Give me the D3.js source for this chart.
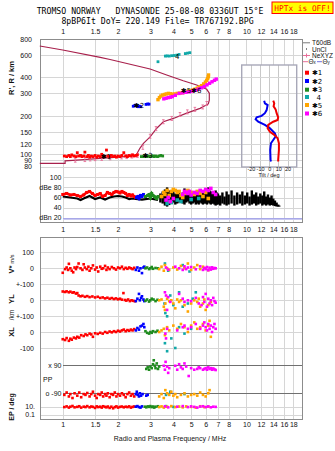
<!DOCTYPE html>
<html><head><meta charset="utf-8">
<script src="https://cdn.jsdelivr.net/npm/d3@7"></script>
<style>body{margin:0;background:#fff}svg{display:block}</style>
</head><body><svg id="c" width="335" height="451"></svg>
<script>
// ---------------- DATA ----------------
const freqTicks=[1,1.5,2,3,4,5,6,7,8,10,12,14,16,18];
const freqLabels=["1","1.5","2","3","4","5","6","7","8","10","12","14","16","18"];
const heightTicks=[80,90,100,120,150,200,300,400,600,800];
const dbTicks=[20,40,60,80,100];
const dbLabels=["dBn 20","40","60","dBe 80","100"];
const tiltTicks=[-20,-10,0,10,20];

// true-height profile (MHz, km)
const profile=[[0.75,85],[1.03,85],[1.03,89],[1.3,91],[1.6,93],[2.0,95],[2.3,96.5],[2.52,98],[2.56,104],[2.63,111.5],[2.75,122],[2.99,137],[3.25,160],[3.53,180],[4.0,191],[4.73,210],[5.59,229],[6.2,248],[6.28,266],[6.28,301],[6.08,323],[5.36,349],[4.53,377],[3.68,418],[2.99,466],[1.81,553],[1.6,575],[1.0,656],[0.75,705]];
const neMarks=[[1.17,90],[1.32,91],[1.41,92],[1.5,92.5],[1.63,93],[1.81,94],[2.09,95.5],[2.23,96],[2.38,97],[2.55,98],[2.73,113.5],[2.99,138.6],[3.22,159],[3.53,180],[3.92,191],[4.35,205],[4.77,215],[5.24,225],[5.78,235],[6.08,250]];

// virtual heights R' per mode (MHz, km)
const r1=[[1.02,97],[1.05,96],[1.08,98],[1.10,96],[1.12,99],[1.15,97],[1.18,96],[1.2,103],[1.22,97],[1.25,98],[1.27,96],[1.3,97],[1.32,104],[1.35,96],[1.38,98],[1.4,95],[1.43,97],[1.46,96],[1.5,98],[1.53,95],[1.56,97],[1.6,96],[1.63,100],[1.66,97],[1.7,96],[1.73,108],[1.76,97],[1.8,96],[1.84,98],[1.88,96],[1.92,97],[1.96,95],[2.0,97],[2.05,96],[2.1,98],[2.15,103],[2.2,97],[2.25,96],[2.3,98],[2.35,97],[2.4,99],[2.45,97],[2.5,98],[2.55,99]];
const r2=[[2.42,238],[2.46,240],[2.5,243],[2.54,239],[2.58,236],[2.62,238],[2.66,236],[2.84,246],[2.9,248],[2.95,247]];
const r3=[[2.68,96],[2.75,96],[2.8,97],[2.86,96],[2.92,97],[2.98,96],[3.05,97],[3.1,97],[3.15,96],[3.2,97],[3.28,96],[3.35,97],[3.42,98],[3.5,97]];
const r4=[[3.30,531],[3.62,588],[3.70,590],[3.80,588],[3.92,592],[4.05,594],[4.18,598],[4.30,605],[4.65,615],[4.78,620],[4.92,625]];
const r5=[[3.30,268],[3.36,278],[3.42,286],[3.5,291],[3.58,294],[3.66,297],[3.76,300],[3.86,298],[3.96,296],[4.08,297],[4.2,300],[4.35,302],[4.5,304],[4.65,307],[4.8,311],[4.95,315],[5.1,319],[5.25,324],[5.4,330],[5.55,337],[5.7,345],[5.85,356],[5.98,368],[6.08,380],[6.15,392],[6.2,405],[6.22,418]];
const r6=[[3.55,272],[3.65,275],[3.75,278],[3.85,280],[3.95,283],[4.1,290],[4.3,300],[4.5,303],[4.7,306],[4.9,309],[5.1,313],[5.3,318],[5.5,325],[5.7,332],[5.9,340],[6.1,350],[6.3,360],[6.5,370],[6.7,380],[6.85,388]];
const modeLabels=[["✱1",1.72,92],["✱2",2.6,230],["✱3",2.9,93],["4",4.2,555],["✱5✱6",5.0,300]];

// amplitudes (MHz, dB)
const db1=[[1.0,66],[1.05,68],[1.1,65],[1.15,66],[1.2,64],[1.25,62],[1.3,65],[1.35,70],[1.4,72],[1.45,68],[1.5,64],[1.55,66],[1.6,68],[1.65,62],[1.7,64],[1.75,70],[1.8,68],[1.85,66],[1.9,70],[1.95,72],[2.0,71],[2.05,69],[2.1,72],[2.15,70],[2.2,68],[2.25,64],[2.3,66],[2.35,63],[2.4,65],[2.45,62],[2.5,60]];
const dbBase=[[1.0,62],[1.1,60],[1.2,58],[1.25,55],[1.3,58],[1.4,63],[1.5,57],[1.6,60],[1.7,56],[1.8,60],[1.9,62],[2.0,63],[2.1,62],[2.2,60],[2.3,57],[2.4,58],[2.5,57],[2.7,56],[3.0,58],[3.3,55]];
const db2=[[2.52,60],[2.56,62],[2.6,58],[2.65,64],[2.7,62],[2.75,66]];
const db3=[[2.82,62],[2.9,64],[2.95,66],[3.0,60],[3.05,68],[3.1,64],[3.15,62],[3.2,60],[3.25,58],[3.3,62]];
const db4=[[3.7,48],[3.8,52],[3.9,50],[4.2,55],[4.4,52],[5.0,56],[5.5,58]];
const db5=[[3.45,62],[3.55,70],[3.6,66],[3.7,74],[3.8,64],[3.9,72],[4.0,76],[4.1,74],[4.2,70],[4.3,72],[4.4,64],[4.5,60],[4.6,68],[4.8,74],[5.0,70],[5.2,66],[5.4,72],[5.6,68],[5.8,62],[6.0,70],[6.2,58]];
const db6=[[3.65,55],[3.75,60],[3.85,52],[4.0,58],[4.5,66],[4.6,72],[4.7,70],[4.8,68],[4.9,72],[5.0,65],[5.2,70],[5.4,68],[5.6,74],[5.8,72],[6.0,76],[6.2,74],[6.4,78],[6.6,70],[6.8,66]];
const dbSpikes=[[3.4,50,68],[3.5,48,72],[3.6,44,76],[3.7,42,80],[3.8,45,74],[3.9,48,70],[4.0,50,72],[4.1,46,68],[4.2,48,74],[4.3,50,70],[4.4,52,66],[4.5,48,70],[4.6,46,78],[4.7,50,72],[4.8,52,68],[4.9,48,74],[5.0,46,70],[5.1,48,66],[5.2,50,68],[5.3,46,70],[5.4,48,72],[5.5,46,68],[5.6,50,74],[5.7,48,66],[5.8,46,70],[5.9,48,72],[6.0,48,78],[6.1,46,70],[6.2,50,80],[6.3,48,74],[6.4,46,72],[6.5,48,68],[6.6,48,70],[6.7,46,66],[6.8,44,74],[6.9,46,70],[7.0,46,68],[7.2,44,64],[7.4,48,70],[7.6,46,62],[7.8,44,72],[8.0,46,66],[8.3,48,74],[8.6,44,64],[8.9,46,70],[9.2,48,66],[9.5,44,72],[9.8,46,64],[10.1,48,70],[10.4,44,62],[10.7,46,74],[11.0,48,66],[11.3,44,70],[11.6,46,62],[11.9,48,68],[12.2,44,64],[12.5,46,72],[12.8,44,62],[13.1,46,66],[13.4,44,60],[13.7,45,64],[14.0,44,58],[14.3,43,54],[14.6,42,50],[14.9,42,46],[15.1,42,44]];

// V* (m/s)
const v1=[[1.0,-28],[1.03,-5],[1.05,5],[1.07,-10],[1.08,28],[1.1,0],[1.12,-15],[1.14,-25],[1.16,5],[1.18,-5],[1.2,8],[1.22,30],[1.25,0],[1.28,-10],[1.3,25],[1.32,5],[1.35,-5],[1.38,10],[1.4,-15],[1.43,0],[1.46,18],[1.5,-8],[1.53,5],[1.56,-20],[1.6,10],[1.63,-3],[1.66,0],[1.7,15],[1.73,-10],[1.76,5],[1.8,-5],[1.85,8],[1.9,0],[1.95,-8],[2.0,5],[2.05,0],[2.1,10],[2.15,-5],[2.2,3],[2.25,-3],[2.3,5],[2.35,0],[2.4,-5],[2.45,3]];
const v2=[[2.5,-10],[2.55,5],[2.6,-15],[2.65,0],[2.7,-30],[2.75,5],[2.78,10]];
const v3=[[2.82,0],[2.88,5],[2.95,-5],[3.0,0],[3.05,8],[3.1,-3],[3.2,2],[3.3,0]];
const v4=[[3.6,30],[3.75,-15],[4.5,20],[4.9,-20]];
const v5=[[3.35,-5],[3.45,10],[3.55,-15],[3.6,20],[3.7,0],[3.8,-10],[4.0,5],[4.2,-8],[4.4,15],[4.6,0],[4.8,30],[5.0,-10],[5.2,5],[5.4,20],[5.6,-5],[5.8,10],[6.0,0],[6.2,-12]];
const v6=[[3.65,5],[3.75,-8],[4.1,10],[4.3,0],[4.5,-10],[4.6,12],[4.7,-5],[4.8,5],[5.0,8],[5.3,-6],[5.6,12],[5.8,-10],[5.9,3],[6.0,-5],[6.1,8],[6.2,-12],[6.3,4],[6.4,-8],[6.5,6],[6.6,-3],[6.7,2],[6.8,0]];

// YL (km)
const yl1=[[1.0,55],[1.03,52],[1.05,56],[1.08,50],[1.1,54],[1.13,48],[1.15,50],[1.18,42],[1.2,45],[1.22,30],[1.25,25],[1.28,28],[1.32,22],[1.36,26],[1.4,20],[1.45,24],[1.5,18],[1.55,22],[1.6,15],[1.65,18],[1.7,12],[1.75,16],[1.8,10],[1.85,14],[1.9,8],[1.95,12],[2.0,6],[2.05,10],[2.1,4],[2.14,45],[2.18,2],[2.22,-2],[2.27,5],[2.32,-5],[2.37,0],[2.42,-3],[2.47,-6]];
const yl2=[[2.5,-5],[2.55,10],[2.6,40],[2.63,0],[2.67,15],[2.7,25],[2.75,5],[2.78,-5]];
const yl3=[[2.82,-3],[2.88,5],[2.95,-8],[3.0,0],[3.05,10],[3.12,5],[3.2,-5],[3.28,3]];
const yl4=[[3.58,-20],[3.62,-80],[3.7,-100],[3.85,30],[4.0,-30],[4.3,50],[4.5,-40],[4.8,-20],[5.1,10],[5.3,50]];
const yl5=[[3.35,0],[3.45,5],[3.55,-40],[3.6,-60],[3.62,-20],[3.7,10],[3.8,-5],[3.9,0],[4.0,-20],[4.1,-50],[4.2,5],[4.3,-10],[4.4,0],[4.6,-30],[4.8,-70],[5.0,-20],[5.2,0],[5.4,-10],[5.5,10],[5.6,-40],[5.8,-20],[5.9,5],[6.0,-60],[6.2,-30],[6.4,-10]];
const yl6=[[3.6,50],[3.65,30],[3.7,-60],[3.75,20],[3.85,-10],[4.3,40],[4.5,10],[4.6,-10],[4.8,0],[5.0,-5],[5.3,15],[5.5,-20],[5.7,-30],[5.8,20],[5.9,-10],[6.0,40],[6.1,-40],[6.2,10],[6.3,-20],[6.4,0],[6.5,-30],[6.6,15],[6.7,-5],[6.8,-15]];

// XL (km)
const xl1=[[1.0,-45],[1.03,-50],[1.05,-38],[1.08,-55],[1.1,-42],[1.12,-48],[1.15,-35],[1.18,-40],[1.2,-30],[1.23,-35],[1.26,-20],[1.3,-25],[1.33,-15],[1.36,-20],[1.4,-10],[1.43,-15],[1.46,-30],[1.5,-8],[1.55,-12],[1.6,-5],[1.65,-10],[1.7,0],[1.75,-5],[1.8,3],[1.85,-2],[1.9,5],[1.95,0],[2.0,8],[2.05,3],[2.1,10],[2.15,15],[2.2,5],[2.25,12],[2.3,8],[2.35,15],[2.4,10],[2.45,18]];
const xl2=[[2.5,10],[2.55,25],[2.6,15],[2.65,35],[2.7,40],[2.75,50],[2.78,30]];
const xl3=[[2.82,5],[2.88,-5],[2.95,-10],[3.0,0],[3.05,-5],[3.1,5],[3.2,0],[3.28,8]];
const xl4=[[3.6,-70],[3.7,-120],[3.9,-40],[4.1,-100],[4.3,30],[4.6,-10],[5.0,20]];
const xl5=[[3.35,0],[3.45,10],[3.55,20],[3.6,-20],[3.7,30],[3.8,10],[4.0,40],[4.2,20],[4.4,50],[4.6,30],[4.8,0],[5.0,40],[5.2,60],[5.4,20],[5.6,30],[5.8,50],[6.0,10],[6.2,40],[6.3,70],[6.4,-30]];
const xl6=[[3.62,-10],[3.65,-40],[3.7,20],[4.2,10],[4.5,30],[4.6,40],[4.8,20],[5.0,30],[5.3,50],[5.6,20],[5.8,40],[5.9,60],[6.0,30],[6.1,10],[6.2,50],[6.3,20],[6.4,40],[6.5,0],[6.6,30],[6.7,50],[6.8,20]];

// PP (deg)
const pp1=[[1.02,-100],[1.05,-85],[1.08,-110],[1.1,-95],[1.13,-120],[1.16,-90],[1.2,-105],[1.23,-85],[1.26,-115],[1.3,-95],[1.33,-100],[1.36,-88],[1.4,-110],[1.43,-95],[1.46,-80],[1.5,-105],[1.53,-120],[1.56,-95],[1.6,-100],[1.63,-85],[1.66,-110],[1.7,-95],[1.73,-105],[1.76,-90],[1.8,-115],[1.84,-95],[1.88,-100],[1.92,-85],[1.96,-110],[2.0,-95],[2.05,-105],[2.1,-90],[2.15,-100],[2.2,-115],[2.25,-95],[2.3,-85],[2.35,-105],[2.4,-95],[2.45,-110]];
const pp2=[[2.5,-95],[2.53,-80],[2.56,-100],[2.6,-110],[2.63,-90],[2.67,-105],[2.72,-95],[2.85,-105],[2.9,-100]];
const pp3=[[2.85,65],[2.9,75],[2.95,60],[3.0,80],[3.05,70],[3.1,95],[3.13,120],[3.17,85],[3.2,70],[3.25,100],[3.3,65],[3.35,80]];
const pp4=[[3.65,-100],[3.85,-80],[4.6,-95]];
const pp5=[[3.35,-110],[3.45,-95],[3.55,-120],[3.62,-70],[3.7,-90],[3.8,-100],[3.9,-80],[4.0,-105],[4.1,-95],[4.2,-115],[4.4,-100],[4.6,-90],[4.8,-110],[5.0,-100],[5.2,-95],[5.4,-105],[5.6,-85],[5.8,-100],[6.0,-110],[6.2,-90],[6.3,-70]];
const pp6=[[3.55,85],[3.6,60],[3.63,110],[3.7,80],[3.75,40],[3.8,70],[4.1,85],[4.2,60],[4.3,95],[4.4,75],[4.5,65],[4.6,100],[4.7,80],[4.85,20],[5.0,70],[5.2,60],[5.4,65],[5.5,75],[5.6,70],[5.8,60],[5.9,65],[6.0,70],[6.1,60],[6.2,75],[6.3,65],[6.4,70],[6.5,60],[6.6,68],[6.7,62],[6.8,58]];

// EP (deg)
const ep1=[[1.02,8],[1.05,12],[1.08,6],[1.1,10],[1.13,15],[1.16,7],[1.2,9],[1.23,13],[1.26,6],[1.3,10],[1.33,8],[1.36,14],[1.4,7],[1.43,11],[1.46,9],[1.5,5],[1.53,12],[1.56,8],[1.6,10],[1.63,6],[1.66,13],[1.7,9],[1.73,7],[1.76,11],[1.8,5],[1.84,10],[1.88,4],[1.92,8],[1.96,12],[2.0,6],[2.05,9],[2.1,11],[2.15,7],[2.2,10],[2.25,8],[2.3,12],[2.35,6],[2.4,9],[2.45,11]];
const ep2=[[2.5,10],[2.55,14],[2.6,8],[2.65,6],[2.7,12]];
const ep3=[[2.8,10],[2.85,7],[2.9,12],[2.95,9],[3.0,14],[3.05,8],[3.1,11],[3.15,6],[3.2,10],[3.3,13]];
const ep4=[[3.65,14],[4.0,9]];
const ep5=[[3.35,8],[3.45,12],[3.55,6],[3.7,10],[3.9,14],[4.1,8],[4.3,11],[4.5,7],[4.7,12],[5.0,9],[5.3,6],[5.6,13],[5.9,8],[6.2,10]];
const ep6=[[3.6,12],[3.75,7],[4.2,10],[4.5,14],[4.8,8],[5.0,12],[5.2,9],[5.4,6],[5.6,11],[5.8,13],[6.0,8],[6.2,12],[6.4,7],[6.6,10],[6.8,9]];

// tilt inset (km, deg)
const tiltThX=[[263,4.4],[251,5.5],[238,4.8],[225,7],[210,8.1],[195,9.8],[186,9.2],[180,4.4],[170,-1.1],[160,-1.7],[150,0.8],[142,5.5],[133.5,9.2],[122,10.6],[108,10.6],[90.3,9.8],[88,9.8]];
const tiltThY=[[263,-5.5],[251,-4.7],[243,-1.7],[222,-2.8],[210,-4.7],[200,-8.3],[195,-13.7],[188,-14.8],[180,-12],[170,-4.7],[160,0.8],[146,6.2],[139,7.3],[129.5,4.4],[122,1.9],[108,1.1],[90.3,1.5],[88,1.9]];

const legendModes=["✱1","✱2","✱3","  4","✱5","✱6"];

// ---------------- STYLE ----------------
const C=["#ff0000","#0000ff","#1e8c1e","#10a8a8","#ffa500","#ff00ff"];
const FONT="Liberation Sans, Arial, sans-serif";
const MONO="DejaVu Sans Mono, monospace";
const svg=d3.select("#c");
svg.append("rect").attr("width",335).attr("height",451).attr("fill","#fff");

const x=d3.scaleLog().domain([0.752,20.07]).range([40,302]);
const yH=d3.scaleLog().domain([80,800]).range([166.7,39]);
const yDb=d3.scaleLinear().domain([20,100]).range([217.7,177.3]);
const yV=d3.scaleLinear().domain([-100,100]).range([284.3,252.3]);
const yYL=d3.scaleLinear().domain([-100,100]).range([316.3,284.3]);
const yXL=d3.scaleLinear().domain([-100,100]).range([348,316]);
const yPP=d3.scaleLinear().domain([-90,90]).range([393.3,365]);
const yEP=d3.scaleLog().domain([0.1,10]).range([414.7,406.7]);
const xT=d3.scaleLinear().domain([-30,30]).range([241.7,296.7]);

const px=v=>Math.round(v)+0.5;
function hline(g,y,x1,x2,col,w){g.append("line").attr("x1",x1).attr("x2",x2).attr("y1",px(y)).attr("y2",px(y)).attr("stroke",col).attr("stroke-width",w||1);}
function vline(g,xx,y1,y2,col,w){g.append("line").attr("x1",px(xx)).attr("x2",px(xx)).attr("y1",y1).attr("y2",y2).attr("stroke",col).attr("stroke-width",w||1);}

// grids
const grid=svg.append("g").attr("shape-rendering","crispEdges");
const GC="#d6d6d6";
freqTicks.forEach(f=>{vline(grid,x(f),39,222,GC);vline(grid,x(f),237,419,GC);});
heightTicks.forEach(h=>hline(grid,yH(h),40,302,GC));
[40,60,80,100].forEach(d=>hline(grid,yDb(d),63,302,GC));
hline(grid,yDb(20),63,302,"#a8a8e8");
hline(grid,yDb(20)+1.5,63,302,"#c8c8f0");
[100,0].forEach(v=>hline(grid,yV(v),40,302,GC));
[100,0].forEach(v=>hline(grid,yYL(v),40,302,GC));
[100,0,-100].forEach(v=>hline(grid,yXL(v),40,302,GC));
[90,-90].forEach(v=>hline(grid,yPP(v),63,302,"#707070"));
[10,0.1].forEach(v=>hline(grid,yEP(v),40,302,GC));

// frames
svg.append("rect").attr("x",40.5).attr("y",39.5).attr("width",262).attr("height",183).attr("fill","none").attr("stroke","#8c8c8c");
svg.append("rect").attr("x",40.5).attr("y",237.5).attr("width",262).attr("height",182).attr("fill","none").attr("stroke","#8c8c8c");

// axes
function styleAxis(g,fs){g.attr("font-size",fs||7).attr("font-family",FONT);g.select(".domain").remove();g.selectAll("text").attr("fill","#111");g.selectAll("line").remove();}
const fmtF=(d,i)=>freqLabels[i];
svg.append("g").attr("transform","translate(0,39)").call(d3.axisTop(x).tickValues(freqTicks).tickFormat(fmtF).tickSize(0).tickPadding(5.5)).call(styleAxis);
svg.append("g").attr("transform","translate(0,222)").call(d3.axisBottom(x).tickValues(freqTicks).tickFormat(fmtF).tickSize(0).tickPadding(5)).call(styleAxis);
svg.append("g").attr("transform","translate(0,419)").call(d3.axisBottom(x).tickValues(freqTicks).tickFormat(fmtF).tickSize(0).tickPadding(3)).call(styleAxis);
svg.append("g").attr("transform","translate(40,0)").call(d3.axisLeft(yH).tickValues(heightTicks).tickFormat(d=>String(d)).tickSize(0).tickPadding(8)).call(styleAxis);
svg.append("g").attr("transform","translate(63,0)").call(d3.axisLeft(yDb).tickValues(dbTicks).tickFormat((d,i)=>dbLabels[i]).tickSize(0).tickPadding(1.5)).call(styleAxis);
svg.append("g").attr("transform","translate(40,0)").call(d3.axisLeft(yV).tickValues([100,0]).tickFormat(d=>String(d)).tickSize(0).tickPadding(6)).call(styleAxis);
svg.append("g").attr("transform","translate(40,0)").call(d3.axisLeft(yYL).tickValues([100,0]).tickFormat(d=>d===100?"+-100":"0").tickSize(0).tickPadding(6)).call(styleAxis);
svg.append("g").attr("transform","translate(40,0)").call(d3.axisLeft(yXL).tickValues([100,0,-100]).tickFormat(d=>d===100?"+-100":String(d)).tickSize(0).tickPadding(6)).call(styleAxis);
svg.append("g").attr("transform","translate(63,0)").call(d3.axisLeft(yPP).tickValues([90,-90]).tickFormat(d=>d>0?"x 90":"o -90").tickSize(0).tickPadding(1.5)).call(styleAxis);
svg.append("g").attr("transform","translate(40,0)").call(d3.axisLeft(yEP).tickValues([10,0.1]).tickFormat(d=>d===10?"10.":"0.1").tickSize(0).tickPadding(5)).call(styleAxis);

// axis titles
function rotText(t,xx,yy,fs){return svg.append("text").attr("transform",`translate(${xx},${yy}) rotate(-90)`).attr("text-anchor","middle").attr("font-family",FONT).attr("font-size",fs||7.5).attr("font-weight","bold").attr("fill","#111").text(t);}
rotText("R', R / km",14,78);
const vt=svg.append("text").attr("transform","translate(14,264) rotate(-90)").attr("text-anchor","middle").attr("font-family",FONT).attr("font-size",7.5).attr("font-weight","bold").attr("fill","#111");
vt.append("tspan").text("V* ");vt.append("tspan").attr("font-size",5.5).attr("font-weight","normal").text("m/s");
rotText("YL",14,299);
rotText("/km",14,315,6.5).attr("font-weight","normal");
rotText("XL",14,332);
rotText("EP / deg",14,407,7);
svg.append("text").attr("x",43).attr("y",381.5).attr("font-family",FONT).attr("font-size",7).attr("fill","#111").text("PP");
svg.append("text").attr("x",170).attr("y",441).attr("text-anchor","middle").attr("font-family",FONT).attr("font-size",7).attr("fill","#111").text("Radio and Plasma Frequency / MHz");

// ---- main panel data ----
const sq=(g,data,ys,col,s)=>g.selectAll(null).data(data).join("rect").attr("x",d=>x(d[0])-s/2).attr("y",d=>ys(d[1])-s/2).attr("width",s).attr("height",s).attr("fill",col);
const mg=svg.append("g");
const line=d3.line().x(d=>x(d[0])).y(d=>yH(d[1]));
mg.append("path").attr("d",line(profile)).attr("fill","none").attr("stroke","#a8204c").attr("stroke-width",1.2);
neMarks.forEach(d=>{const cx=x(d[0]),cy=yH(d[1]);
  mg.append("path").attr("d",`M${cx-1.3},${cy-2}H${cx+1.3}M${cx},${cy-2}V${cy+2}M${cx-1.3},${cy+2}H${cx+1.3}`).attr("stroke","#e8709a").attr("stroke-width",0.9).attr("fill","none");});
[r1,r2,r3,r4,r5,r6].forEach((r,i)=>sq(mg,r,yH,C[i],i>=4?3.4:2.8));
modeLabels.forEach(d=>mg.append("text").attr("x",x(d[1])).attr("y",yH(d[2])).attr("font-family","DejaVu Sans").attr("font-size",7).attr("fill","#000").attr("text-anchor","middle").text(d[0]));

// ---- dB panel ----
const dg=svg.append("g");
dbSpikes.forEach(d=>dg.append("line").attr("x1",x(d[0])).attr("x2",x(d[0])).attr("y1",yDb(d[1])).attr("y2",yDb(d[2])).attr("stroke","#000").attr("stroke-width",2.4));
const dl=d3.line().x(d=>x(d[0])).y(d=>yDb(d[1]));
dg.append("path").attr("d",dl(dbBase)).attr("fill","none").attr("stroke","#000").attr("stroke-width",2.2);
[db1,db2,db3].forEach((r,i)=>{dg.append("path").attr("d",dl(r)).attr("fill","none").attr("stroke",C[i]).attr("stroke-width",2.6);sq(dg,r,yDb,C[i],3);});
[db4,db5,db6].forEach((r,i)=>sq(dg,r,yDb,C[i+3],3.6));

// ---- lower panel ----
const lg=svg.append("g");
const sets=[[[v1,v2,v3,v4,v5,v6],yV],[[yl1,yl2,yl3,yl4,yl5,yl6],yYL],[[xl1,xl2,xl3,xl4,xl5,xl6],yXL],[[pp1,pp2,pp3,pp4,pp5,pp6],yPP],[[ep1,ep2,ep3,ep4,ep5,ep6],yEP]];
sets.forEach(([arr,ys])=>arr.forEach((r,i)=>sq(lg,r,ys,C[i],2.6)));

// ---- tilt inset ----
const ig=svg.append("g");
ig.append("rect").attr("x",241.7).attr("y",65).attr("width",55).attr("height",102).attr("fill","#fff");
const ing=ig.append("g").attr("shape-rendering","crispEdges");
[-20,-10,0,10,20].forEach(t=>vline(ing,xT(t),65,167,"#c8c8c8"));
heightTicks.filter(h=>yH(h)>65&&yH(h)<167).forEach(h=>hline(ing,yH(h),241.7,296.7,"#d6d6d6"));
ig.append("rect").attr("x",241.7).attr("y",65).attr("width",55).attr("height",102).attr("fill","none").attr("stroke","#a8a8b8").attr("stroke-width",1.4);
const tl=d3.line().x(d=>xT(d[1])).y(d=>yH(d[0]));
ig.append("path").attr("d",tl(tiltThY)).attr("fill","none").attr("stroke","#0000ee").attr("stroke-width",2);
ig.append("path").attr("d",tl(tiltThX)).attr("fill","none").attr("stroke","#ee0000").attr("stroke-width",2);
svg.append("g").attr("transform","translate(0,167)").call(d3.axisBottom(xT).tickValues(tiltTicks).tickFormat(d=>String(d)).tickSize(0).tickPadding(0.5)).call(g=>styleAxis(g,5.5));
svg.append("text").attr("x",269).attr("y",176.5).attr("text-anchor","middle").attr("font-family",FONT).attr("font-size",5.5).attr("fill","#111").text("Tilt / deg");

// ---- legend ----
const L=svg.append("g").attr("font-family",FONT).attr("font-size",6.5).attr("fill","#111");
L.append("line").attr("x1",303).attr("x2",310).attr("y1",42.7).attr("y2",42.7).attr("stroke","#a0a0a0").attr("stroke-width",1.4);
L.append("text").attr("x",312).attr("y",45.2).text("T60dB");
L.append("rect").attr("x",306).attr("y",48.5).attr("width",1).attr("height",1).attr("fill","#000");
L.append("text").attr("x",312).attr("y",51.7).text("UnCl");
L.append("line").attr("x1",303).attr("x2",310).attr("y1",55.5).attr("y2",55.5).attr("stroke","#e8709a").attr("stroke-width",1);
L.append("line").attr("x1",306.5).attr("x2",306.5).attr("y1",53.5).attr("y2",57.5).attr("stroke","#e8709a").attr("stroke-width",1);
L.append("text").attr("x",312).attr("y",58).text("NeXYZ");
L.append("line").attr("x1",303).attr("x2",308).attr("y1",61.7).attr("y2",61.7).attr("stroke","#e8709a").attr("stroke-width",1);
const tx=L.append("text").attr("x",308.5).attr("y",64.2);tx.append("tspan").text("Θ");tx.append("tspan").attr("font-size",4.5).text("x");
L.append("line").attr("x1",317).attr("x2",322).attr("y1",61.7).attr("y2",61.7).attr("stroke","#7070e0").attr("stroke-width",1);
const ty=L.append("text").attr("x",322.5).attr("y",64.2);ty.append("tspan").text("Θ");ty.append("tspan").attr("font-size",4.5).text("y");
const lys=[72.7,81,89.7,97,105,113.5];
legendModes.forEach((t,i)=>{
  L.append("rect").attr("x",305).attr("y",lys[i]-2).attr("width",4).attr("height",4).attr("fill",C[i]);
  L.append("text").attr("x",312).attr("y",lys[i]+2.7).attr("font-family","DejaVu Sans").attr("font-size",7).attr("fill","#000").style("white-space","pre").text(t);
});

// ---- title ----
svg.append("text").attr("x",150).attr("y",14.2).attr("text-anchor","middle").attr("font-family",MONO).attr("font-size",8.2).attr("fill","#000").style("white-space","pre").text("TROMSO NORWAY   DYNASONDE 25-08-08 0336UT 15°E");
svg.append("text").attr("x",157.5).attr("y",24.2).attr("text-anchor","middle").attr("font-family",MONO).attr("font-size",8.2).attr("fill","#000").style("white-space","pre").text("8pBP6It DoY= 220.149 File= TR767192.BPG");
svg.append("rect").attr("x",272).attr("y",2).attr("width",61).attr("height",11.5).attr("fill","#ffff00").attr("stroke","#ff0000").attr("stroke-width",1);
svg.append("text").attr("x",302.5).attr("y",10.8).attr("text-anchor","middle").attr("font-family",MONO).attr("font-size",7.8).attr("fill","#ff0000").style("white-space","pre").text("HPTx is OFF!");
</script></body></html>
